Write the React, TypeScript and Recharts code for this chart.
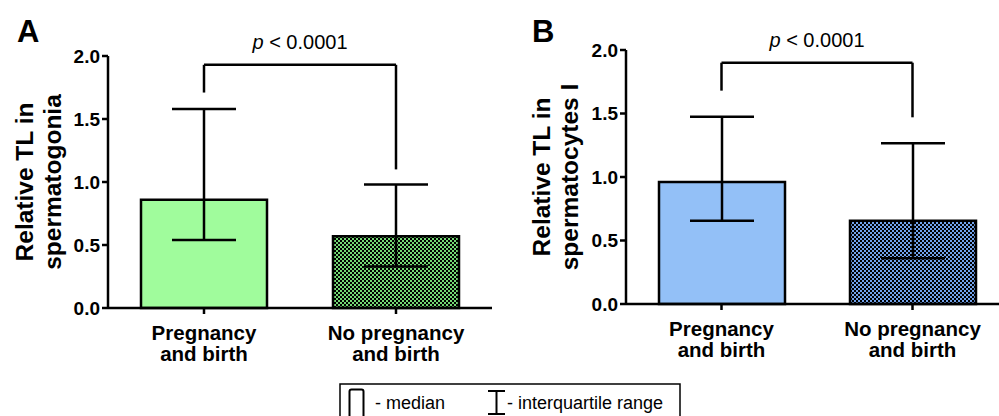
import React from 'react';
import { BarChart, Bar, XAxis, YAxis, ErrorBar, Cell, ReferenceLine } from 'recharts';

const FONT = '"Liberation Sans", Arial, sans-serif';

const categories = ['Pregnancy\nand birth', 'No pregnancy\nand birth'];
const yTicks = [0, 0.5, 1, 1.5, 2];

// Panel A – spermatogonia
const spermatogoniaMedian = [0.86, 0.57];
const spermatogoniaQ1 = [0.54, 0.33];
const spermatogoniaQ3 = [1.58, 0.98];
const bracketA = { leftLow: 1.71, top: 1.93, rightLow: 1.1 };

// Panel B – spermatocytes I
const spermatocytesMedian = [0.96, 0.655];
const spermatocytesQ1 = [0.655, 0.36];
const spermatocytesQ3 = [1.475, 1.265];
const bracketB = { leftLow: 1.68, top: 1.9, rightLow: 1.47 };

const pValueText = '< 0.0001';

const build = (med: number[], q1: number[], q3: number[]) =>
  categories.map((name, i) => ({
    name,
    median: med[i],
    err: [med[i] - q1[i], q3[i] - med[i]],
  }));

const dataA = build(spermatogoniaMedian, spermatogoniaQ1, spermatogoniaQ3);
const dataB = build(spermatocytesMedian, spermatocytesQ1, spermatocytesQ3);

const XTick = (props: any) => {
  const { x, y, payload } = props;
  const lines = String(payload.value).split('\n');
  return (
    <g>
      {lines.map((l, i) => (
        <text key={i} x={x} y={y + 24 + i * 21} textAnchor="middle" fontFamily={FONT} fontWeight="bold" fontSize={20.5} fill="#000">
          {l}
        </text>
      ))}
    </g>
  );
};

const PLabel = (props: any) => {
  const vb = props.viewBox || {};
  const cx = (vb.x ?? 0) + (vb.width ?? 0) / 2;
  const y = (vb.y ?? 0) - 16;
  return (
    <text x={cx} y={y} textAnchor="middle" fontFamily={FONT} fontSize={20} fill="#000">
      <tspan fontStyle="italic">p</tspan> {pValueText}
    </text>
  );
};

const Panel = ({ data, fills, yLabel, bracket, width, margin, patternId, patternColor }: any) => {
  return (
    <BarChart width={width} height={416} data={data} margin={margin}>
      <defs>
        <pattern id={patternId} patternUnits="userSpaceOnUse" width={4} height={4}>
          <rect x={0} y={0} width={4} height={4} fill={patternColor} />
          <rect x={0} y={0} width={2} height={2} fill="#000" />
          <rect x={2} y={2} width={2} height={2} fill="#000" />
        </pattern>
      </defs>
      <XAxis
        dataKey="name"
        axisLine={{ stroke: '#000', strokeWidth: 2.5 }}
        tickLine={{ stroke: '#000', strokeWidth: 2.5 }}
        tickSize={6}
        tick={<XTick />}
        height={60}
        interval={0}
      />
      <YAxis
        domain={[0, 2]}
        ticks={yTicks}
        width={60}
        axisLine={{ stroke: '#000', strokeWidth: 2.5 }}
        tickLine={{ stroke: '#000', strokeWidth: 2.5 }}
        tickSize={6}
        tickFormatter={(v: number) => v.toFixed(1)}
        tick={{ fill: '#000', fontFamily: FONT, fontWeight: 'bold', fontSize: 19 }}
        label={{
          content: (p: any) => {
            const vb = p.viewBox || {};
            const cy = vb.y + vb.height / 2;
            const x1 = vb.x - margin.left + yLabel.x;
            return (
              <g>
                <text x={x1} y={cy} transform={`rotate(-90, ${x1}, ${cy})`} textAnchor="middle" fontFamily={FONT} fontWeight="bold" fontSize={24.5} fill="#000">
                  {yLabel.lines[0]}
                </text>
                <text x={x1 + 28} y={cy} transform={`rotate(-90, ${x1 + 28}, ${cy})`} textAnchor="middle" fontFamily={FONT} fontWeight="bold" fontSize={24.5} fill="#000">
                  {yLabel.lines[1]}
                </text>
              </g>
            );
          },
        }}
      />
      <Bar dataKey="median" barSize={126} stroke="#000" strokeWidth={2.5} isAnimationActive={false}>
        {data.map((_: any, i: number) => (
          <Cell key={i} fill={fills[i]} />
        ))}
        <ErrorBar dataKey="err" width={32} strokeWidth={2.5} stroke="#000" direction="y" isAnimationActive={false} />
      </Bar>
      <ReferenceLine
        segment={[{ x: categories[0], y: bracket.leftLow }, { x: categories[0], y: bracket.top }]}
        stroke="#000"
        strokeWidth={2.5}
        ifOverflow="visible"
      />
      <ReferenceLine
        segment={[{ x: categories[0], y: bracket.top }, { x: categories[1], y: bracket.top }]}
        stroke="#000"
        strokeWidth={2.5}
        ifOverflow="visible"
        label={<PLabel />}
      />
      <ReferenceLine
        segment={[{ x: categories[1], y: bracket.top }, { x: categories[1], y: bracket.rightLow }]}
        stroke="#000"
        strokeWidth={2.5}
        ifOverflow="visible"
      />
    </BarChart>
  );
};

export default function App() {
  return (
    <div style={{ position: 'absolute', left: 0, top: 0, width: 999, height: 416, background: '#fff', overflow: 'hidden' }}>
      <div style={{ position: 'absolute', left: 0, top: 0, width: 500, height: 416 }}>
        <Panel
          data={dataA}
          fills={['#a0fc9c', 'url(#checkA)']}
          patternId="checkA"
          patternColor="#74d874"
          yLabel={{ x: 33, lines: ['Relative TL in', 'spermatogonia'] }}
          bracket={bracketA}
          width={500}
          margin={{ left: 48, top: 56, right: 8, bottom: 48 }}
        />
      </div>
      <div style={{ position: 'absolute', left: 500, top: 0, width: 499, height: 416, overflow: 'hidden' }}>
        <Panel
          data={dataB}
          fills={['#93c0f7', 'url(#checkB)']}
          patternId="checkB"
          patternColor="#72a2ea"
          yLabel={{ x: 50, lines: ['Relative TL in', 'spermatocytes I'] }}
          bracket={bracketB}
          width={520}
          margin={{ left: 66, top: 50, right: 12, bottom: 52 }}
        />
      </div>
      <svg width={999} height={416} style={{ position: 'absolute', left: 0, top: 0, pointerEvents: 'none' }}>
        <text x={17} y={42} fontFamily={FONT} fontWeight="bold" fontSize={31} fill="#000">A</text>
        <text x={532} y={42} fontFamily={FONT} fontWeight="bold" fontSize={31} fill="#000">B</text>
        <rect x={340} y={384} width={340} height={40} fill="#fff" stroke="#000" strokeWidth={1.5} />
        <rect x={349.5} y={389.5} width={14} height={30} rx={2} fill="#fff" stroke="#000" strokeWidth={2} />
        <text x={375} y={409} fontFamily={FONT} fontSize={18} fill="#000">- median</text>
        <line x1={488} y1={391} x2={505} y2={391} stroke="#000" strokeWidth={2} />
        <line x1={496.5} y1={391} x2={496.5} y2={414} stroke="#000" strokeWidth={2} />
        <line x1={488} y1={414} x2={505} y2={414} stroke="#000" strokeWidth={2} />
        <text x={507} y={409} fontFamily={FONT} fontSize={18} fill="#000">- interquartile range</text>
      </svg>
    </div>
  );
}
